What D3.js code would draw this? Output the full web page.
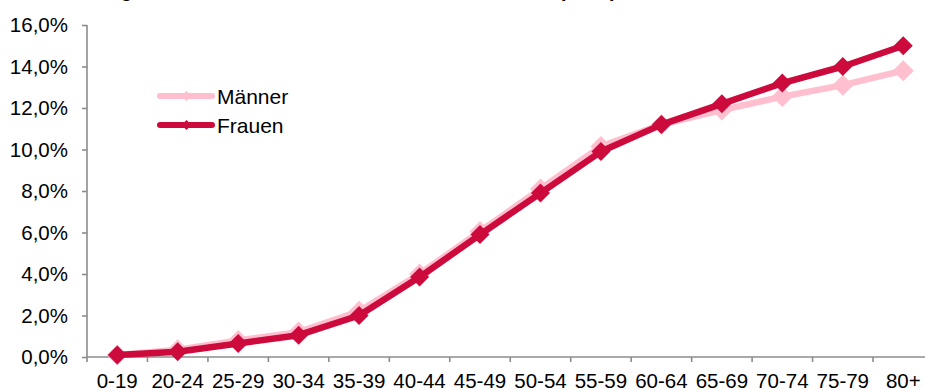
<!DOCTYPE html>
<html>
<head>
<meta charset="utf-8">
<script src="https://cdn.jsdelivr.net/npm/d3@7"></script>
<style>
  html, body { margin: 0; padding: 0; background: #fff; }
  svg { display: block; font-family: "Liberation Sans", Arial, sans-serif; }
</style>
</head>
<body>
<svg id="chart" width="925" height="390"></svg>
<script>
// Age groups and shares per group (in %)
const ageGroups = ["0-19", "20-24", "25-29", "30-34", "35-39", "40-44", "45-49",
                   "50-54", "55-59", "60-64", "65-69", "70-74", "75-79", "80+"];
const maenner = [0.1, 0.35, 0.8, 1.2, 2.2, 4.0, 6.05, 8.1, 10.15, 11.2, 11.9, 12.55, 13.1, 13.8];
const frauen  = [0.1, 0.25, 0.65, 1.05, 2.0, 3.85, 5.9, 7.9, 9.9, 11.2, 12.2, 13.2, 14.0, 15.0];
const yTicks = [0, 2, 4, 6, 8, 10, 12, 14, 16];
const titleText = "Verteilung der Versicherten nach Alter und Geschlecht (2012)";

const colMaenner = "#ffbfcf";
const colFrauen = "#cc0a3c";
const axisColor = "#8c8c8c";

const svg = d3.select("#chart");

const plotLeft = 87, plotRight = 933.5, plotTop = 25, plotBottom = 357;

const x = d3.scaleBand().domain(ageGroups).range([plotLeft, plotRight]).padding(0);
const y = d3.scaleLinear().domain([0, 16]).range([plotBottom, plotTop]);
const fmt = v => d3.format(".1f")(v).replace(".", ",") + "%";

// Title (sits mostly above the visible area)
svg.append("text")
  .attr("x", 36).attr("y", -3)
  .attr("font-size", 20).attr("font-weight", "bold").attr("fill", "#000")
  .text(titleText);

// Y axis
const yAxis = svg.append("g")
  .attr("transform", `translate(${plotLeft},0)`)
  .call(d3.axisLeft(y).tickValues(yTicks).tickFormat(fmt).tickSize(5).tickPadding(14));
yAxis.select(".domain").attr("stroke", axisColor).attr("stroke-width", 1.6)
  .attr("d", `M0,${plotTop}V${plotBottom}`);
yAxis.selectAll(".tick line").attr("stroke", axisColor).attr("stroke-width", 1.6);
yAxis.selectAll(".tick text").attr("font-size", 20.5).attr("fill", "#000")
  .attr("font-family", "Liberation Sans, Arial, sans-serif").attr("dy", "0.33em");

// X axis: ticks on the category boundaries
const xAxis = svg.append("g").attr("transform", `translate(0,${plotBottom})`);
xAxis.append("line")
  .attr("x1", plotLeft).attr("x2", 925).attr("y1", 0).attr("y2", 0)
  .attr("stroke", axisColor).attr("stroke-width", 1.6);
const boundaries = ageGroups.map(d => x(d)).concat([x(ageGroups[ageGroups.length - 1]) + x.bandwidth()]);
xAxis.selectAll("line.tk").data(boundaries).join("line")
  .attr("class", "tk")
  .attr("x1", d => d).attr("x2", d => d).attr("y1", 0).attr("y2", 5)
  .attr("stroke", axisColor).attr("stroke-width", 1.6);
xAxis.selectAll("text").data(ageGroups).join("text")
  .attr("x", d => x(d) + x.bandwidth() / 2)
  .attr("y", 30.5)
  .attr("text-anchor", "middle")
  .attr("font-size", 20.5).attr("fill", "#000")
  .text(d => d);

// Series
const cx = d => x(d) + x.bandwidth() / 2;
const line = d3.line().x((v, i) => cx(ageGroups[i])).y(v => y(v));
const diamond = (s) => `M0,${-s}L${s},0L0,${s}L${-s},0Z`;

function drawSeries(values, color, size) {
  const g = svg.append("g");
  g.append("path").datum(values)
    .attr("d", line).attr("fill", "none")
    .attr("stroke", color).attr("stroke-width", 6.5).attr("stroke-linejoin", "round");
  g.selectAll("path.m").data(values).join("path")
    .attr("class", "m")
    .attr("transform", (v, i) => `translate(${cx(ageGroups[i])},${y(v)})`)
    .attr("d", diamond(size)).attr("fill", color);
}
drawSeries(maenner, colMaenner, 10.5);
drawSeries(frauen, colFrauen, 9.5);

// Legend
const legend = [
  { name: "Männer", color: colMaenner, y: 96 },
  { name: "Frauen", color: colFrauen, y: 125 }
];
const lg = svg.append("g");
legend.forEach(l => {
  lg.append("line").attr("x1", 160).attr("x2", 212).attr("y1", l.y).attr("y2", l.y)
    .attr("stroke", l.color).attr("stroke-width", 6).attr("stroke-linecap", "round");
  lg.append("path").attr("transform", `translate(186.5,${l.y})`)
    .attr("d", diamond(5)).attr("fill", l.color);
  lg.append("text").attr("x", 217).attr("y", l.y + 7.5)
    .attr("font-size", 21).attr("fill", "#000").text(l.name);
});
</script>
</body>
</html>
